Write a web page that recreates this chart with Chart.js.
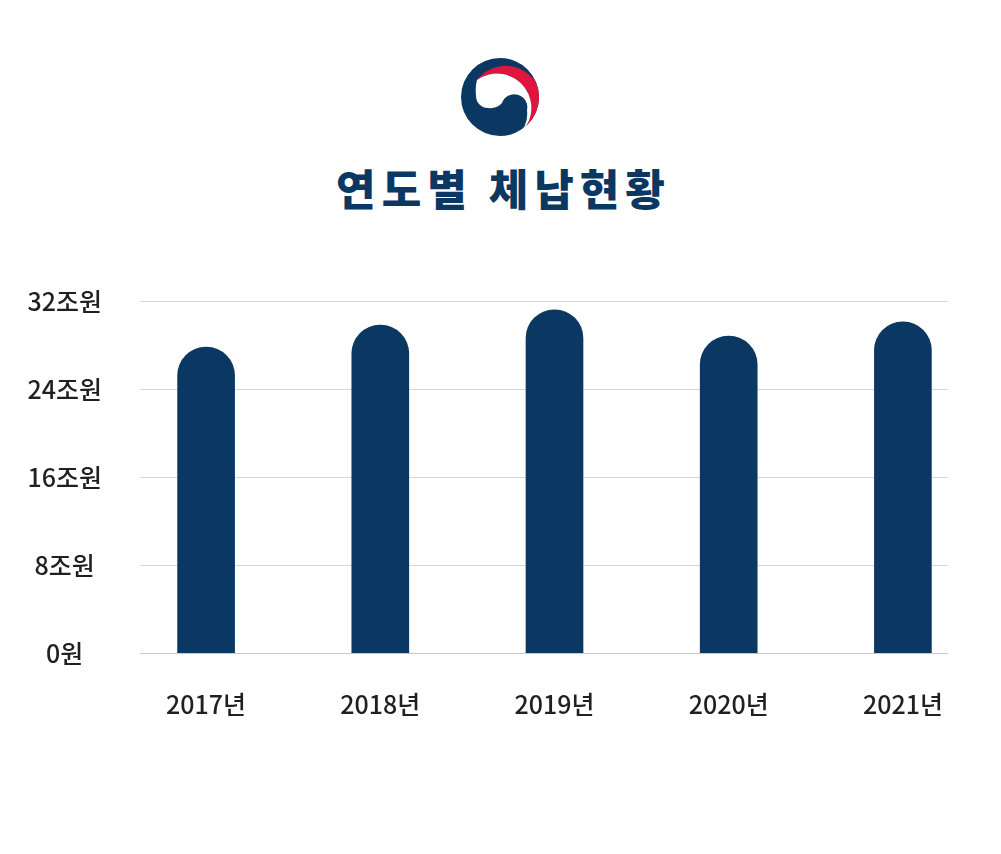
<!DOCTYPE html>
<html>
<head>
<meta charset="utf-8">
<script src="https://cdn.jsdelivr.net/npm/chart.js@4/dist/chart.umd.min.js"></script>
<style>
  html, body { margin: 0; padding: 0; background: #ffffff; }
  #wrap { position: relative; width: 1001px; height: 854px; overflow: hidden; }
  #logo { position: absolute; left: 460px; top: 57px; width: 80px; height: 80px; }
  #title { position: absolute; left: 0; width: 1001px; top: 166px; text-align: center;
           font-family: "Noto Sans CJK KR", sans-serif; font-weight: 900; font-size: 43px;
           line-height: 42px; letter-spacing: 6px; padding-left: 6px; box-sizing: border-box; color: #0a3862; }
  #c { position: absolute; left: 0; top: 0; }
</style>
</head>
<body>
<div id="wrap">
  <svg id="logo" viewBox="-40 -40 80 80">
    <defs><clipPath id="cp"><circle cx="0" cy="0" r="39"/></clipPath></defs>
    <circle cx="0" cy="0" r="39" fill="#0a3862"/>
    <g clip-path="url(#cp)">
      <path d="M -23 -17 A 36 36 0 1 1 17 39 A 34 34 0 1 0 -23 -17 Z" fill="#e0143c"/>
      <path d="M -23 -17 A 34 34 0 1 1 17 39 A 30 30 0 0 0 27 13 A 13 13 0 0 0 2 6 Q -3 12 -12 11 A 12 12 0 0 1 -24 -1 Q -25 -10 -23 -17 Z" fill="#ffffff"/>
    </g>
  </svg>
  <div id="title">연도별 체납현황</div>
  <canvas id="c" width="1001" height="854"></canvas>
</div>
<script>
const categories = ["2017년", "2018년", "2019년", "2020년", "2021년"];
const values = [27.8, 29.8, 31.2, 28.8, 30.1];
const yTickValues = [0, 8, 16, 24, 32];
const yTickLabels = ["0원", "8조원", "16조원", "24조원", "32조원"];

const gridPlugin = {
  id: 'customGrid',
  beforeDatasetsDraw(chart) {
    const ctx = chart.ctx;
    const y = chart.scales.y;
    ctx.save();
    ctx.lineWidth = 1;
    yTickValues.forEach(v => {
      const py = Math.round(y.getPixelForValue(v)) + 0.5;
      ctx.strokeStyle = v === 0 ? '#c8c8c8' : '#d6d6d6';
      ctx.beginPath();
      ctx.moveTo(140, py);
      ctx.lineTo(948, py);
      ctx.stroke();
    });
    ctx.restore();
  }
};

new Chart(document.getElementById('c'), {
  type: 'bar',
  data: {
    labels: categories,
    datasets: [{
      data: values,
      backgroundColor: '#0a3862',
      barThickness: 57,
      borderRadius: 29,
      borderSkipped: 'start'
    }]
  },
  options: {
    responsive: false,
    animation: false,
    layout: { padding: { top: 301, right: 11, left: 0, bottom: 0 } },
    plugins: { legend: { display: false }, tooltip: { enabled: false } },
    scales: {
      x: {
        grid: { display: false, drawTicks: false },
        border: { display: false },
        ticks: {
          padding: 36,
          color: '#231f20',
          font: { family: '"Noto Sans CJK KR", sans-serif', size: 25, weight: 500 }
        },
        afterFit(scale) { scale.height = 201; }
      },
      y: {
        min: 0,
        max: 32,
        afterBuildTicks(scale) { scale.ticks = yTickValues.map(v => ({ value: v })); },
        grid: { display: false, drawTicks: false },
        border: { display: false },
        ticks: {
          crossAlign: 'center',
          padding: 17,
          color: '#231f20',
          font: { family: '"Noto Sans CJK KR", sans-serif', size: 25, weight: 500 },
          callback(value) {
            const i = yTickValues.indexOf(value);
            return i >= 0 ? yTickLabels[i] : '';
          }
        },
        afterFit(scale) { scale.width = 119; }
      }
    }
  },
  plugins: [gridPlugin]
});
</script>
</body>
</html>
